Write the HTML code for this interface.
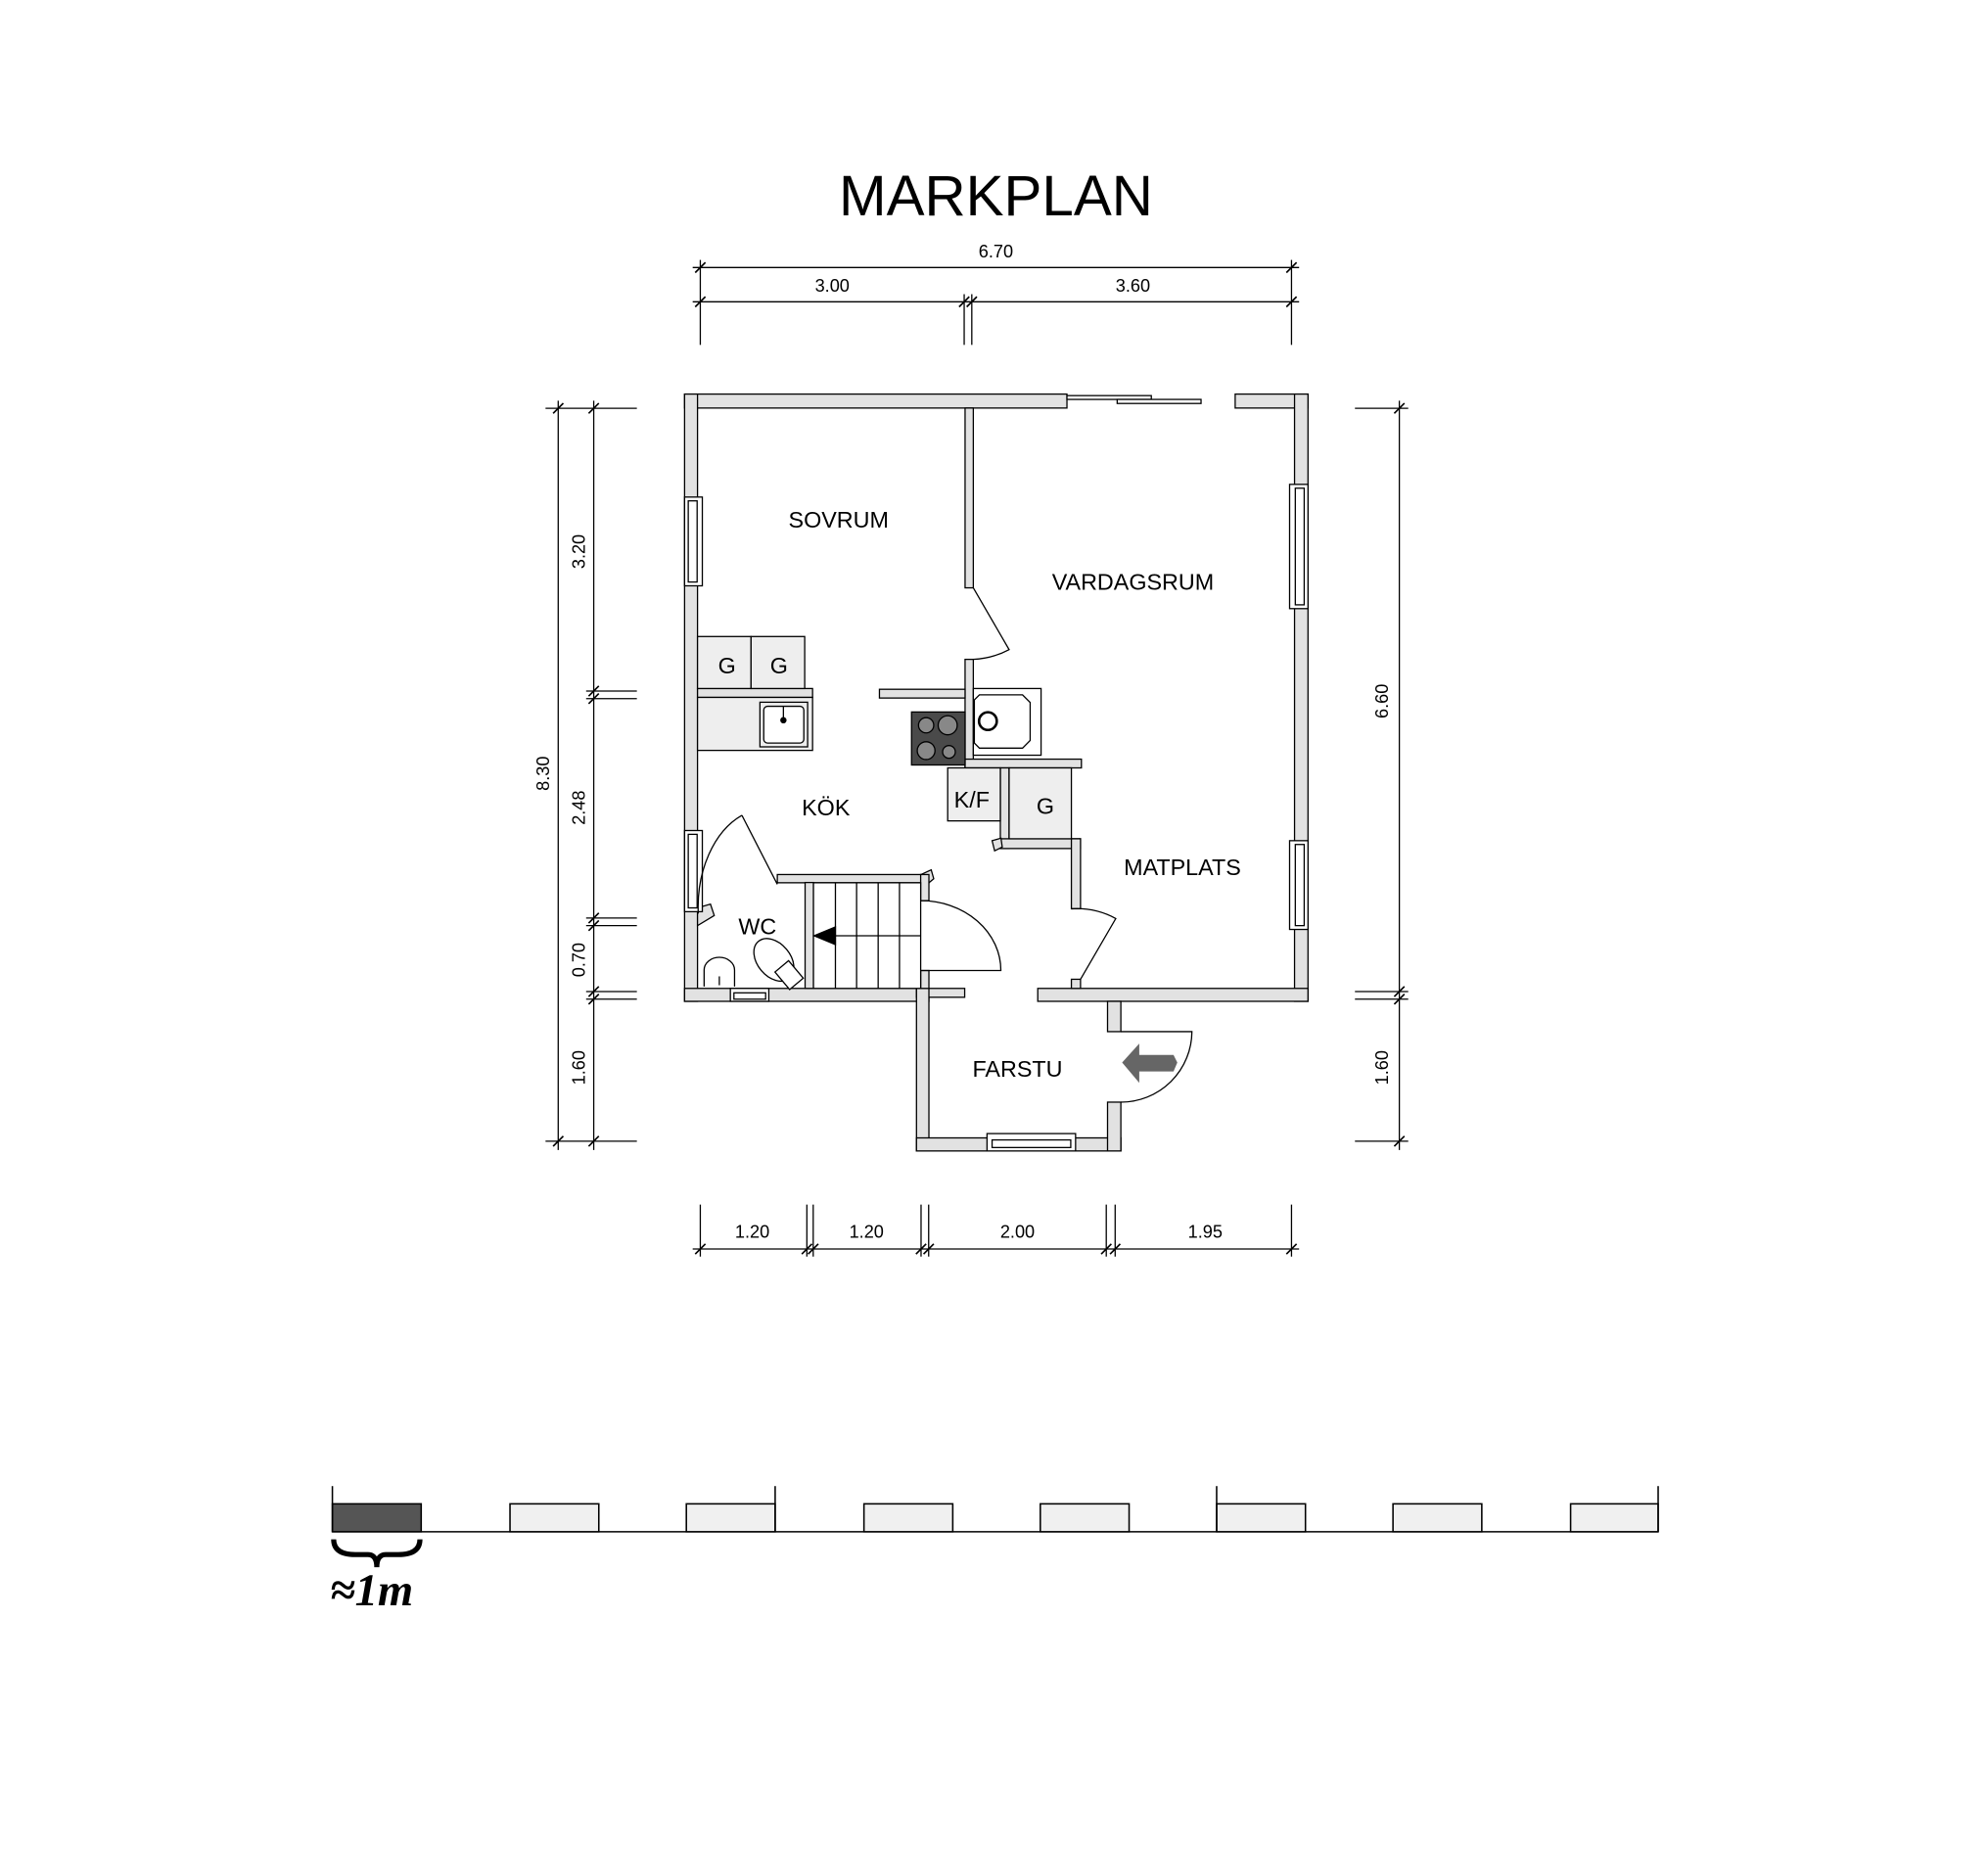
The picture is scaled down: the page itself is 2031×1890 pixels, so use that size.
<!DOCTYPE html>
<html><head><meta charset="utf-8"><style>
html,body{margin:0;padding:0;background:#fff;}
svg{display:block;}
text{font-family:"Liberation Sans",Arial,sans-serif;fill:#000;}
</style></head><body>
<svg width="2031" height="1890" viewBox="0 0 1567 1459" preserveAspectRatio="none" xmlns="http://www.w3.org/2000/svg">
<rect x="0" y="0" width="1567" height="1459" fill="#fff"/>
<text x="785" y="170" font-size="45" text-anchor="middle">MARKPLAN</text>

<g stroke="#000" stroke-width="1" fill="none">
<line x1="546" y1="211" x2="1024" y2="211"/>
<line x1="546" y1="238" x2="1024" y2="238"/>
<line x1="552" y1="205" x2="552" y2="272"/>
<line x1="760" y1="232" x2="760" y2="272"/>
<line x1="766" y1="232" x2="766" y2="272"/>
<line x1="1018" y1="205" x2="1018" y2="272"/>
<path d="M548 215 L556 207 M548 242 L556 234 M756 242 L764 234 M762 242 L770 234 M1014 215 L1022 207 M1014 242 L1022 234" stroke-width="1.3"/>
<line x1="440" y1="316" x2="440" y2="907"/>
<line x1="468" y1="316" x2="468" y2="907"/>
<line x1="430" y1="322" x2="502" y2="322"/>
<line x1="462" y1="545" x2="502" y2="545"/>
<line x1="462" y1="551" x2="502" y2="551"/>
<line x1="462" y1="724" x2="502" y2="724"/>
<line x1="462" y1="730" x2="502" y2="730"/>
<line x1="462" y1="782" x2="502" y2="782"/>
<line x1="462" y1="788" x2="502" y2="788"/>
<line x1="430" y1="900" x2="502" y2="900"/>
<path d="M436 326 L444 318 M464 326 L472 318 M464 549 L472 541 M464 555 L472 547 M464 728 L472 720 M464 734 L472 726 M464 786 L472 778 M464 792 L472 784 M436 904 L444 896 M464 904 L472 896" stroke-width="1.3"/>
<line x1="1103" y1="316" x2="1103" y2="907"/>
<line x1="1068" y1="322" x2="1110" y2="322"/>
<line x1="1068" y1="782" x2="1110" y2="782"/>
<line x1="1068" y1="788" x2="1110" y2="788"/>
<line x1="1068" y1="900" x2="1110" y2="900"/>
<path d="M1099 326 L1107 318 M1099 786 L1107 778 M1099 792 L1107 784 M1099 904 L1107 896" stroke-width="1.3"/>
<line x1="546" y1="985" x2="1024" y2="985"/>
<line x1="552" y1="950" x2="552" y2="991"/>
<line x1="636" y1="950" x2="636" y2="991"/>
<line x1="641" y1="950" x2="641" y2="991"/>
<line x1="726" y1="950" x2="726" y2="991"/>
<line x1="732" y1="950" x2="732" y2="991"/>
<line x1="872" y1="950" x2="872" y2="991"/>
<line x1="879" y1="950" x2="879" y2="991"/>
<line x1="1018" y1="950" x2="1018" y2="991"/>
<path d="M548 989 L556 981 M632 989 L640 981 M637 989 L645 981 M722 989 L730 981 M728 989 L736 981 M868 989 L876 981 M875 989 L883 981 M1014 989 L1022 981" stroke-width="1.3"/>
</g>
<g font-size="14">
<text x="785" y="203" text-anchor="middle">6.70</text>
<text x="656" y="230" text-anchor="middle">3.00</text>
<text x="893" y="230" text-anchor="middle">3.60</text>
<text x="593" y="976" text-anchor="middle">1.20</text>
<text x="683" y="976" text-anchor="middle">1.20</text>
<text x="802" y="976" text-anchor="middle">2.00</text>
<text x="950" y="976" text-anchor="middle">1.95</text>
<text transform="translate(433,610) rotate(-90)" text-anchor="middle">8.30</text>
<text transform="translate(461,435) rotate(-90)" text-anchor="middle">3.20</text>
<text transform="translate(461,637) rotate(-90)" text-anchor="middle">2.48</text>
<text transform="translate(461,757) rotate(-90)" text-anchor="middle">0.70</text>
<text transform="translate(461,842) rotate(-90)" text-anchor="middle">1.60</text>
<text transform="translate(1094,553) rotate(-90)" text-anchor="middle">6.60</text>
<text transform="translate(1094,842) rotate(-90)" text-anchor="middle">1.60</text>
</g>

<g fill="#e2e2e2" stroke="#000" stroke-width="1">
<rect x="539.6" y="310.8" width="301.4" height="11"/>
<rect x="973.6" y="310.8" width="57.4" height="11"/>
<rect x="539.6" y="310.8" width="10.2" height="478.9"/>
<rect x="1020.4" y="310.8" width="10.6" height="478.9"/>
<rect x="539.6" y="779.5" width="192.6" height="10.2"/>
<rect x="818" y="779.5" width="213" height="10.2"/>
<rect x="722.4" y="779.5" width="38" height="7"/>
<rect x="722.4" y="779.5" width="9.8" height="128.2"/>
<rect x="722.4" y="897.4" width="161.1" height="10.3"/>
<rect x="873" y="789.7" width="10.5" height="23.9"/>
<rect x="873" y="869.2" width="10.5" height="38.5"/>
<rect x="760.7" y="321.8" width="6.5" height="141.8"/>
<rect x="760.7" y="520" width="6.5" height="85.6"/>
<rect x="693.2" y="543.6" width="67.5" height="6.9"/>
<rect x="549.8" y="543" width="90.7" height="7"/>
<rect x="760.7" y="598.7" width="91.7" height="6.9"/>
<rect x="788.5" y="605.6" width="6.9" height="63.6"/>
<rect x="788.5" y="661.5" width="63.2" height="7.7"/>
<rect x="844.5" y="661.5" width="7.2" height="55.2"/>
<rect x="844.5" y="772.3" width="7.2" height="7.2"/>
<polygon points="782,663 789,661 790,668 784,671"/>
<rect x="612.7" y="689.7" width="119.5" height="6.5"/>
<polygon points="726,689.7 734,686 736,693 732.2,696.2"/>
<rect x="634.6" y="696" width="6.6" height="83.5"/>
<rect x="725.7" y="689.7" width="6.5" height="20.6"/>
<rect x="725.7" y="765.4" width="6.5" height="14.1"/>
<polygon points="549.8,716 560,713 563,722 549.8,730"/>
</g>

<g fill="#fff" stroke="#000" stroke-width="1">
<rect x="539.6" y="392" width="14" height="70"/>
<rect x="542.5" y="395" width="7" height="64"/>
<rect x="1016.5" y="382" width="14.5" height="98"/>
<rect x="1021" y="385" width="7" height="92"/>
<rect x="539.6" y="655" width="14" height="64"/>
<rect x="542.5" y="658" width="7" height="58"/>
<rect x="1016.5" y="663" width="14.5" height="70"/>
<rect x="1021" y="666" width="7" height="64"/>
<rect x="575.7" y="779.5" width="30.3" height="10.2"/>
<rect x="578.5" y="783" width="25" height="5"/>
<rect x="778" y="894" width="69.8" height="13.7"/>
<rect x="782" y="899" width="62" height="6"/>
<rect x="841" y="312" width="66.5" height="3"/>
<rect x="880.6" y="315" width="66.1" height="3.2"/>
</g>

<g fill="none" stroke="#000" stroke-width="1">
<path d="M767.2 463.6 L795.4 512.3 A60 52 0 0 1 767 520"/>
<path d="M725.7 710.3 A63 55 0 0 1 788.9 765.4 L725.7 765.4"/>
<path d="M844.5 716.7 A57 48 0 0 1 879.5 724.4 L851.7 772.3"/>
<path d="M883.5 813.6 L939.5 813.6 A56 56 0 0 1 883.5 869.2"/>
<path d="M584.8 643 L612.7 697.4 M584.8 643 A55 78 0 0 0 550.4 720.5"/>
</g>

<g stroke="#000" stroke-width="1">
<rect x="549.8" y="502" width="42.2" height="41" fill="#eee"/>
<rect x="592" y="502" width="42.3" height="41" fill="#eee"/>
<rect x="549.8" y="550" width="90.7" height="41.8" fill="#eee"/>
<rect x="599" y="553.8" width="37.6" height="35.2" fill="#eee"/>
<rect x="602" y="557" width="31.6" height="29" rx="3" fill="#fff"/>
<circle cx="617.5" cy="568" r="2" fill="#000"/>
<line x1="617.5" y1="557" x2="617.5" y2="568"/>
<rect x="718.5" y="561.5" width="42.2" height="41.8" fill="#4a4a4a"/>
<circle cx="730" cy="572" r="6" fill="#888"/>
<circle cx="747" cy="572" r="7.5" fill="#888"/>
<circle cx="730" cy="592" r="7" fill="#888"/>
<circle cx="748" cy="593" r="5" fill="#888"/>
<rect x="767.2" y="543" width="53.4" height="52.6" fill="#fff"/>
<polygon points="772,548 806,548 812,554 812,584 806,590 772,590 768,586 768,552" fill="#fff"/>
<circle cx="778.7" cy="568.7" r="7" fill="none" stroke-width="2"/>
<rect x="747" y="605.6" width="41.5" height="41.8" fill="#eee"/>
<rect x="795.4" y="605.6" width="49.1" height="55.9" fill="#eee"/>
<rect x="641.2" y="696.2" width="84.5" height="83.3" fill="#fff"/>
<path d="M658.5 696.2 V779.5 M675.2 696.2 V779.5 M692.2 696.2 V779.5 M709 696.2 V779.5 M641.2 738 H725.7" fill="none"/>
<polygon points="641.7,738 658.5,731 658.5,745" fill="#000"/>
<path d="M555 778 L555 765 A12 10 0 0 1 579 765 L579 778" fill="#fff"/>
<line x1="567" y1="770" x2="567" y2="777"/>
<ellipse cx="610" cy="757" rx="13" ry="19" transform="rotate(-40 610 757)" fill="#fff"/>
<rect x="615" y="760" width="14" height="18" transform="rotate(-40 622 769)" fill="#fff"/>
<polygon points="884.5,838 898,823 898,832 925,832 928,838 925,845 898,845 898,854" fill="#666" stroke="none"/>
</g>

<g font-size="18" text-anchor="middle">
<text x="661" y="416">SOVRUM</text>
<text x="893" y="465">VARDAGSRUM</text>
<text x="573" y="531">G</text>
<text x="614" y="531">G</text>
<text x="766" y="637">K/F</text>
<text x="824" y="642">G</text>
<text x="651" y="643">KÖK</text>
<text x="932" y="690">MATPLATS</text>
<text x="597" y="737">WC</text>
<text x="802" y="849">FARSTU</text>
</g>

<g stroke="#000" stroke-width="1.2">
<line x1="262" y1="1208" x2="1307" y2="1208"/>
<rect x="262" y="1186" width="70" height="22" fill="#555"/>
<rect x="402" y="1186" width="70" height="22" fill="#f0f0f0"/>
<rect x="541" y="1186" width="70" height="22" fill="#f0f0f0"/>
<rect x="681" y="1186" width="70" height="22" fill="#f0f0f0"/>
<rect x="820" y="1186" width="70" height="22" fill="#f0f0f0"/>
<rect x="959" y="1186" width="70" height="22" fill="#f0f0f0"/>
<rect x="1098" y="1186" width="70" height="22" fill="#f0f0f0"/>
<rect x="1238" y="1186" width="69" height="22" fill="#f0f0f0"/>
<line x1="262" y1="1172" x2="262" y2="1208"/>
<line x1="611" y1="1172" x2="611" y2="1208"/>
<line x1="959" y1="1172" x2="959" y2="1208"/>
<line x1="1307" y1="1172" x2="1307" y2="1208"/>
</g>
<path d="M263 1214 Q263 1226 280 1226 L290 1226 Q297 1226 297 1236 Q297 1226 304 1226 L314 1226 Q331 1226 331 1214" fill="none" stroke="#000" stroke-width="4"/>
<text x="260" y="1266" style="font-family:'Liberation Serif',serif;font-style:italic;font-weight:bold;font-size:36px">≈1m</text>
</svg>
</body></html>
